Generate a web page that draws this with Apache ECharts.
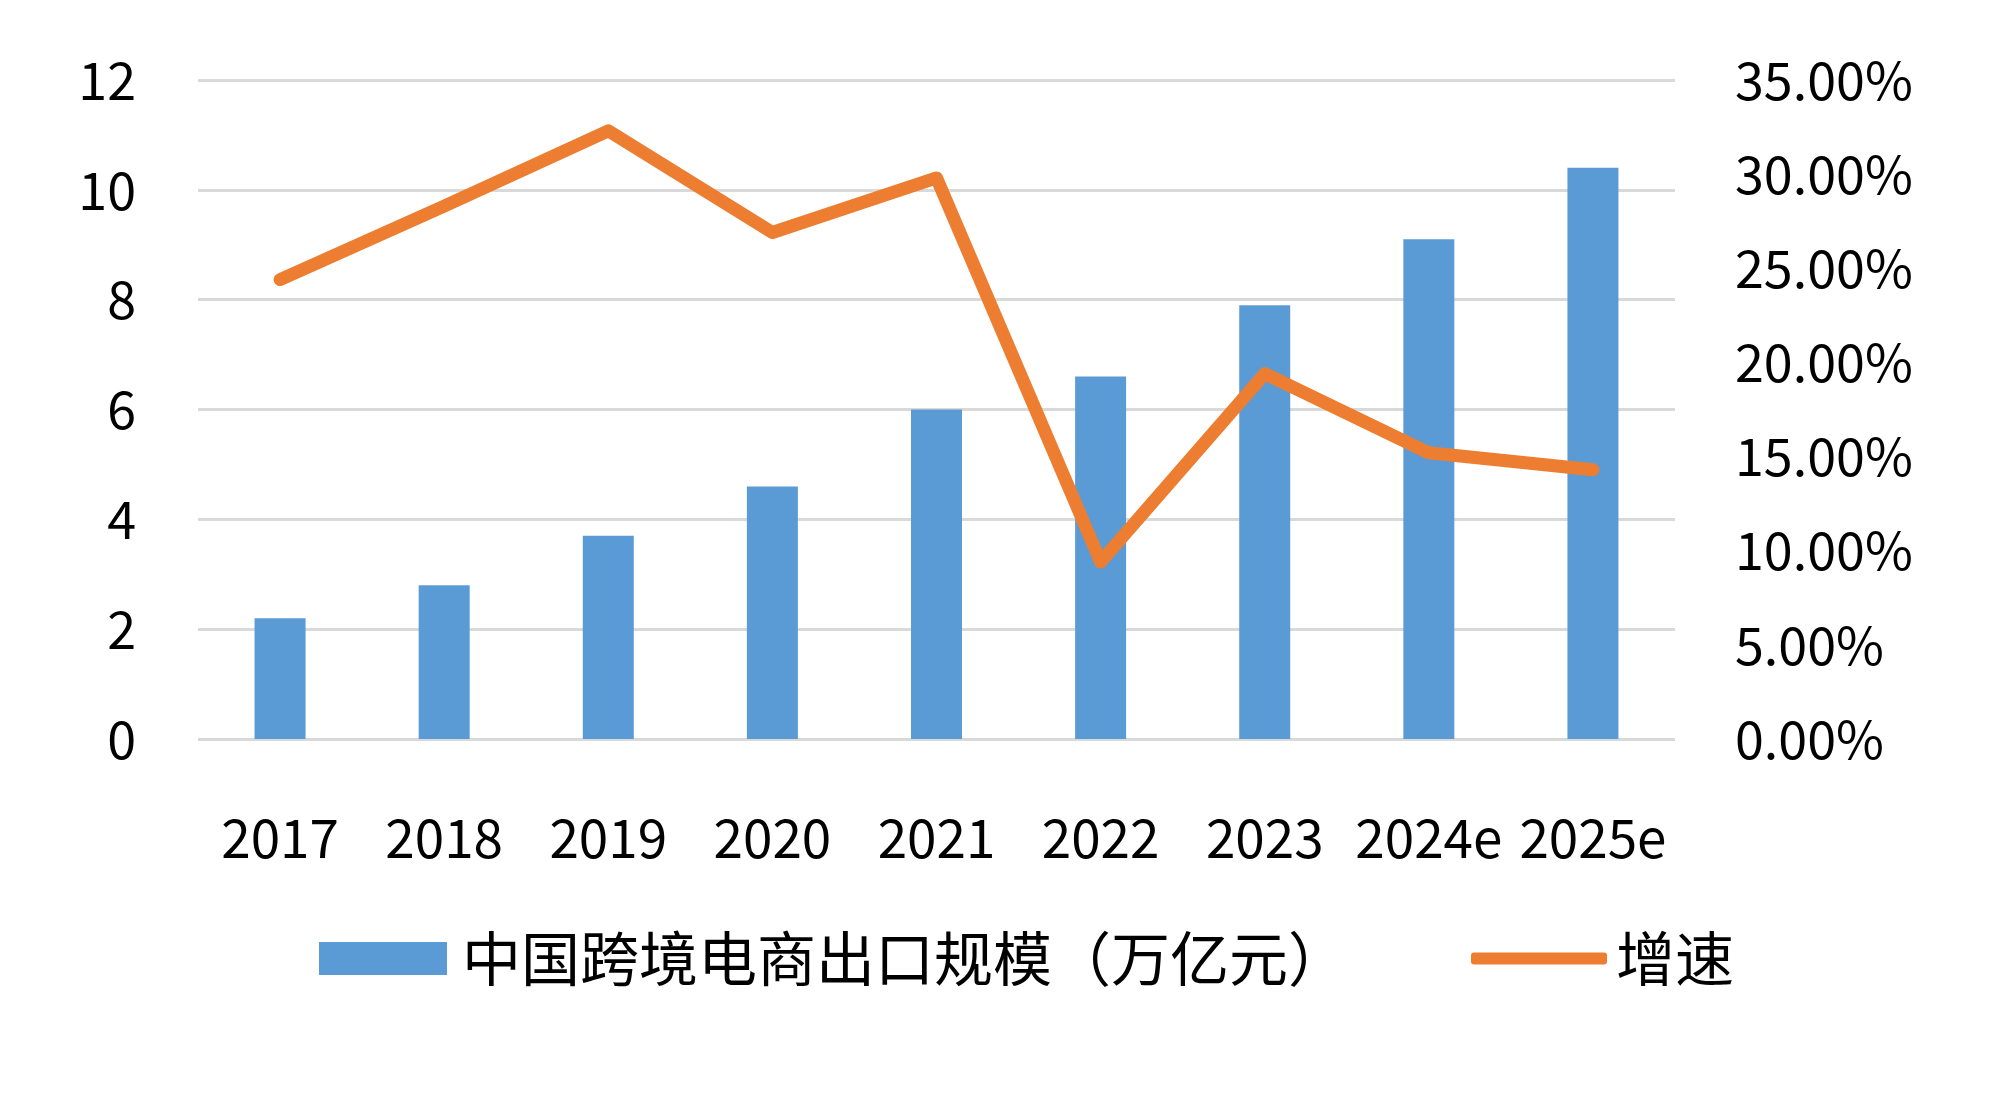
<!DOCTYPE html>
<html>
<head>
<meta charset="utf-8">
<script src="https://cdn.jsdelivr.net/npm/echarts@6/dist/echarts.min.js"></script>
<style>
html,body{margin:0;padding:0;background:#fff;}
#chart{width:2000px;height:1114px;}
</style>
</head>
<body>
<div id="chart"></div>
<script>
const categories = ['2017','2018','2019','2020','2021','2022','2023','2024e','2025e'];
const scaleValues = [2.2, 2.8, 3.7, 4.6, 6.0, 6.6, 7.9, 9.1, 10.4];
const growthValues = [24.4, 28.3, 32.3, 26.9, 29.8, 9.4, 19.4, 15.2, 14.3];
const barName = '中国跨境电商出口规模（万亿元）';
const lineName = '增速';

const FONT = '"Noto Sans CJK SC", "Noto Sans", sans-serif';
const chart = echarts.init(document.getElementById('chart'));
chart.setOption({
  backgroundColor: '#ffffff',
  textStyle: { fontFamily: FONT, color: '#000' },
  grid: { left: 198, right: 325, top: 80, bottom: 375, containLabel: false },
  legend: [
    {
      data: [barName],
      left: 314, top: 924,
      itemWidth: 128, itemHeight: 33, itemGap: 0,
      icon: 'rect',
      textStyle: { fontSize: 59, color: '#000', fontFamily: FONT, padding: [0,0,0,10] }
    },
    {
      data: [lineName],
      left: 1466, top: 924,
      itemWidth: 136, itemHeight: 12,
      icon: 'roundRect',
      textStyle: { fontSize: 59, color: '#000', fontFamily: FONT, padding: [0,0,0,4] }
    }
  ],
  xAxis: {
    type: 'category',
    data: categories,
    boundaryGap: true,
    axisLine: { show: false },
    axisTick: { show: false },
    axisLabel: { fontSize: 53, color: '#000', margin: 72, fontFamily: FONT, interval: 0 }
  },
  yAxis: [
    {
      type: 'value', min: 0, max: 12, interval: 2,
      axisLine: { show: false }, axisTick: { show: false },
      axisLabel: { fontSize: 52, color: '#000', margin: 62, fontFamily: FONT },
      splitLine: { show: true, lineStyle: { color: '#D9D9D9', width: 3 } }
    },
    {
      type: 'value', min: 0, max: 35, interval: 5,
      axisLine: { show: false }, axisTick: { show: false },
      axisLabel: { fontSize: 52, color: '#000', margin: 60, fontFamily: FONT, align: 'left',
        formatter: v => v.toFixed(2) + '%' },
      splitLine: { show: false }
    }
  ],
  series: [
    {
      name: barName, type: 'bar', data: scaleValues, yAxisIndex: 0,
      barWidth: 51,
      itemStyle: { color: '#5B9BD5' },
      z: 2
    },
    {
      name: lineName, type: 'line', data: growthValues, yAxisIndex: 1,
      symbol: 'none',
      lineStyle: { color: '#ED7D31', width: 13, cap: 'round', join: 'round' },
      itemStyle: { color: '#ED7D31' },
      z: 3
    }
  ],
  animation: false
});
</script>
</body>
</html>
